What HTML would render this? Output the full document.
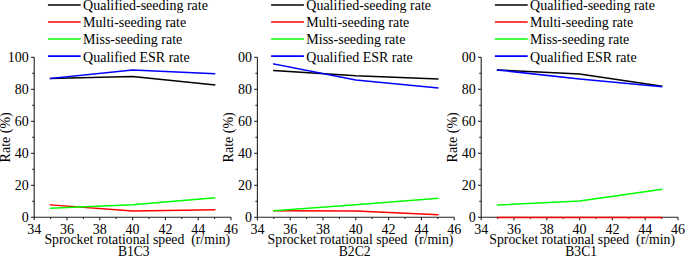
<!DOCTYPE html>
<html><head><meta charset="utf-8"><style>
html,body{margin:0;padding:0;background:#fff;width:685px;height:256px;overflow:hidden}
svg{display:block}
</style></head><body>
<svg width="685" height="256" viewBox="0 0 685 256">
<rect width="685" height="256" fill="#fff"/>
<path d="M34.20 57.30 V217.30 H231.00" fill="none" stroke="#222" stroke-width="1.1"/>
<path d="M31.00 217.30 H34.20" stroke="#222" stroke-width="1.1"/>
<path d="M32.20 201.30 H34.20" stroke="#222" stroke-width="1.1"/>
<path d="M31.00 185.30 H34.20" stroke="#222" stroke-width="1.1"/>
<path d="M32.20 169.30 H34.20" stroke="#222" stroke-width="1.1"/>
<path d="M31.00 153.30 H34.20" stroke="#222" stroke-width="1.1"/>
<path d="M32.20 137.30 H34.20" stroke="#222" stroke-width="1.1"/>
<path d="M31.00 121.30 H34.20" stroke="#222" stroke-width="1.1"/>
<path d="M32.20 105.30 H34.20" stroke="#222" stroke-width="1.1"/>
<path d="M31.00 89.30 H34.20" stroke="#222" stroke-width="1.1"/>
<path d="M32.20 73.30 H34.20" stroke="#222" stroke-width="1.1"/>
<path d="M31.00 57.30 H34.20" stroke="#222" stroke-width="1.1"/>
<path d="M34.20 217.30 V220.30" stroke="#222" stroke-width="1.1"/>
<path d="M50.60 217.30 V219.10" stroke="#222" stroke-width="1.1"/>
<path d="M67.00 217.30 V220.30" stroke="#222" stroke-width="1.1"/>
<path d="M83.40 217.30 V219.10" stroke="#222" stroke-width="1.1"/>
<path d="M99.80 217.30 V220.30" stroke="#222" stroke-width="1.1"/>
<path d="M116.20 217.30 V219.10" stroke="#222" stroke-width="1.1"/>
<path d="M132.60 217.30 V220.30" stroke="#222" stroke-width="1.1"/>
<path d="M149.00 217.30 V219.10" stroke="#222" stroke-width="1.1"/>
<path d="M165.40 217.30 V220.30" stroke="#222" stroke-width="1.1"/>
<path d="M181.80 217.30 V219.10" stroke="#222" stroke-width="1.1"/>
<path d="M198.20 217.30 V220.30" stroke="#222" stroke-width="1.1"/>
<path d="M214.60 217.30 V219.10" stroke="#222" stroke-width="1.1"/>
<path d="M231.00 217.30 V220.30" stroke="#222" stroke-width="1.1"/>
<text x="28.70" y="222.10" text-anchor="end" font-family="Liberation Serif" font-size="14">0</text>
<text x="28.70" y="190.10" text-anchor="end" font-family="Liberation Serif" font-size="14">20</text>
<text x="28.70" y="158.10" text-anchor="end" font-family="Liberation Serif" font-size="14">40</text>
<text x="28.70" y="126.10" text-anchor="end" font-family="Liberation Serif" font-size="14">60</text>
<text x="28.70" y="94.10" text-anchor="end" font-family="Liberation Serif" font-size="14">80</text>
<text x="28.70" y="62.10" text-anchor="end" font-family="Liberation Serif" font-size="14">100</text>
<text x="34.20" y="233.5" text-anchor="middle" font-family="Liberation Serif" font-size="14">34</text>
<text x="67.00" y="233.5" text-anchor="middle" font-family="Liberation Serif" font-size="14">36</text>
<text x="99.80" y="233.5" text-anchor="middle" font-family="Liberation Serif" font-size="14">38</text>
<text x="132.60" y="233.5" text-anchor="middle" font-family="Liberation Serif" font-size="14">40</text>
<text x="165.40" y="233.5" text-anchor="middle" font-family="Liberation Serif" font-size="14">42</text>
<text x="198.20" y="233.5" text-anchor="middle" font-family="Liberation Serif" font-size="14">44</text>
<text x="231.00" y="233.5" text-anchor="middle" font-family="Liberation Serif" font-size="14">46</text>
<text transform="translate(10.00,137.3) rotate(-90)" text-anchor="middle" font-family="Liberation Serif" font-size="14">Rate (%)</text>
<text x="44.40" y="244.3" font-family="Liberation Serif" font-size="13.77" xml:space="preserve">Sprocket rotational speed  (r/min)</text>
<text x="117.90" y="256" font-family="Liberation Serif" font-size="13.6">B1C3</text>
<path d="M47.90 4.95 H80.70" stroke="#000000" stroke-width="1.6"/>
<text x="83.10" y="10.35" font-family="Liberation Serif" font-size="14">Qualified-seeding rate</text>
<path d="M47.90 22.00 H80.70" stroke="#ff0000" stroke-width="1.6"/>
<text x="83.10" y="27.40" font-family="Liberation Serif" font-size="14">Multi-seeding rate</text>
<path d="M47.90 39.05 H80.70" stroke="#00ff00" stroke-width="1.6"/>
<text x="83.10" y="44.45" font-family="Liberation Serif" font-size="14">Miss-seeding rate</text>
<path d="M47.90 56.10 H80.70" stroke="#0000ff" stroke-width="1.6"/>
<text x="83.10" y="61.50" font-family="Liberation Serif" font-size="14">Qualified ESR rate</text>
<polyline points="50.60,78.50 132.60,76.40 214.60,84.90" fill="none" stroke="#000000" stroke-width="1.5" stroke-linejoin="miter" stroke-linecap="square"/>
<polyline points="50.60,204.90 132.60,211.00 214.60,209.70" fill="none" stroke="#ff0000" stroke-width="1.5" stroke-linejoin="miter" stroke-linecap="square"/>
<polyline points="50.60,208.30 132.60,204.70 214.60,197.90" fill="none" stroke="#00ff00" stroke-width="1.5" stroke-linejoin="miter" stroke-linecap="square"/>
<polyline points="50.60,78.50 132.60,70.00 214.60,73.60" fill="none" stroke="#0000ff" stroke-width="1.5" stroke-linejoin="miter" stroke-linecap="square"/>
<path d="M257.40 57.30 V217.30 H454.20" fill="none" stroke="#222" stroke-width="1.1"/>
<path d="M254.20 217.30 H257.40" stroke="#222" stroke-width="1.1"/>
<path d="M255.40 201.30 H257.40" stroke="#222" stroke-width="1.1"/>
<path d="M254.20 185.30 H257.40" stroke="#222" stroke-width="1.1"/>
<path d="M255.40 169.30 H257.40" stroke="#222" stroke-width="1.1"/>
<path d="M254.20 153.30 H257.40" stroke="#222" stroke-width="1.1"/>
<path d="M255.40 137.30 H257.40" stroke="#222" stroke-width="1.1"/>
<path d="M254.20 121.30 H257.40" stroke="#222" stroke-width="1.1"/>
<path d="M255.40 105.30 H257.40" stroke="#222" stroke-width="1.1"/>
<path d="M254.20 89.30 H257.40" stroke="#222" stroke-width="1.1"/>
<path d="M255.40 73.30 H257.40" stroke="#222" stroke-width="1.1"/>
<path d="M254.20 57.30 H257.40" stroke="#222" stroke-width="1.1"/>
<path d="M257.40 217.30 V220.30" stroke="#222" stroke-width="1.1"/>
<path d="M273.80 217.30 V219.10" stroke="#222" stroke-width="1.1"/>
<path d="M290.20 217.30 V220.30" stroke="#222" stroke-width="1.1"/>
<path d="M306.60 217.30 V219.10" stroke="#222" stroke-width="1.1"/>
<path d="M323.00 217.30 V220.30" stroke="#222" stroke-width="1.1"/>
<path d="M339.40 217.30 V219.10" stroke="#222" stroke-width="1.1"/>
<path d="M355.80 217.30 V220.30" stroke="#222" stroke-width="1.1"/>
<path d="M372.20 217.30 V219.10" stroke="#222" stroke-width="1.1"/>
<path d="M388.60 217.30 V220.30" stroke="#222" stroke-width="1.1"/>
<path d="M405.00 217.30 V219.10" stroke="#222" stroke-width="1.1"/>
<path d="M421.40 217.30 V220.30" stroke="#222" stroke-width="1.1"/>
<path d="M437.80 217.30 V219.10" stroke="#222" stroke-width="1.1"/>
<path d="M454.20 217.30 V220.30" stroke="#222" stroke-width="1.1"/>
<text x="251.90" y="222.10" text-anchor="end" font-family="Liberation Serif" font-size="14">0</text>
<text x="251.90" y="190.10" text-anchor="end" font-family="Liberation Serif" font-size="14">20</text>
<text x="251.90" y="158.10" text-anchor="end" font-family="Liberation Serif" font-size="14">40</text>
<text x="251.90" y="126.10" text-anchor="end" font-family="Liberation Serif" font-size="14">60</text>
<text x="251.90" y="94.10" text-anchor="end" font-family="Liberation Serif" font-size="14">80</text>
<text x="251.90" y="62.10" text-anchor="end" font-family="Liberation Serif" font-size="14">00</text>
<text x="257.40" y="233.5" text-anchor="middle" font-family="Liberation Serif" font-size="14">34</text>
<text x="290.20" y="233.5" text-anchor="middle" font-family="Liberation Serif" font-size="14">36</text>
<text x="323.00" y="233.5" text-anchor="middle" font-family="Liberation Serif" font-size="14">38</text>
<text x="355.80" y="233.5" text-anchor="middle" font-family="Liberation Serif" font-size="14">40</text>
<text x="388.60" y="233.5" text-anchor="middle" font-family="Liberation Serif" font-size="14">42</text>
<text x="421.40" y="233.5" text-anchor="middle" font-family="Liberation Serif" font-size="14">44</text>
<text x="454.20" y="233.5" text-anchor="middle" font-family="Liberation Serif" font-size="14">46</text>
<text transform="translate(233.20,137.3) rotate(-90)" text-anchor="middle" font-family="Liberation Serif" font-size="14">Rate (%)</text>
<text x="267.60" y="244.3" font-family="Liberation Serif" font-size="13.77" xml:space="preserve">Sprocket rotational speed  (r/min)</text>
<text x="338.80" y="256" font-family="Liberation Serif" font-size="13.6">B2C2</text>
<path d="M271.10 4.95 H303.90" stroke="#000000" stroke-width="1.6"/>
<text x="306.30" y="10.35" font-family="Liberation Serif" font-size="14">Qualified-seeding rate</text>
<path d="M271.10 22.00 H303.90" stroke="#ff0000" stroke-width="1.6"/>
<text x="306.30" y="27.40" font-family="Liberation Serif" font-size="14">Multi-seeding rate</text>
<path d="M271.10 39.05 H303.90" stroke="#00ff00" stroke-width="1.6"/>
<text x="306.30" y="44.45" font-family="Liberation Serif" font-size="14">Miss-seeding rate</text>
<path d="M271.10 56.10 H303.90" stroke="#0000ff" stroke-width="1.6"/>
<text x="306.30" y="61.50" font-family="Liberation Serif" font-size="14">Qualified ESR rate</text>
<polyline points="273.80,70.50 355.80,75.80 437.80,79.00" fill="none" stroke="#000000" stroke-width="1.5" stroke-linejoin="miter" stroke-linecap="square"/>
<polyline points="273.80,210.70 355.80,210.90 437.80,214.60" fill="none" stroke="#ff0000" stroke-width="1.5" stroke-linejoin="miter" stroke-linecap="square"/>
<polyline points="273.80,210.70 355.80,204.80 437.80,198.20" fill="none" stroke="#00ff00" stroke-width="1.5" stroke-linejoin="miter" stroke-linecap="square"/>
<polyline points="273.80,63.90 355.80,79.90 437.80,87.90" fill="none" stroke="#0000ff" stroke-width="1.5" stroke-linejoin="miter" stroke-linecap="square"/>
<path d="M481.20 57.30 V217.30 H678.00" fill="none" stroke="#222" stroke-width="1.1"/>
<path d="M478.00 217.30 H481.20" stroke="#222" stroke-width="1.1"/>
<path d="M479.20 201.30 H481.20" stroke="#222" stroke-width="1.1"/>
<path d="M478.00 185.30 H481.20" stroke="#222" stroke-width="1.1"/>
<path d="M479.20 169.30 H481.20" stroke="#222" stroke-width="1.1"/>
<path d="M478.00 153.30 H481.20" stroke="#222" stroke-width="1.1"/>
<path d="M479.20 137.30 H481.20" stroke="#222" stroke-width="1.1"/>
<path d="M478.00 121.30 H481.20" stroke="#222" stroke-width="1.1"/>
<path d="M479.20 105.30 H481.20" stroke="#222" stroke-width="1.1"/>
<path d="M478.00 89.30 H481.20" stroke="#222" stroke-width="1.1"/>
<path d="M479.20 73.30 H481.20" stroke="#222" stroke-width="1.1"/>
<path d="M478.00 57.30 H481.20" stroke="#222" stroke-width="1.1"/>
<path d="M481.20 217.30 V220.30" stroke="#222" stroke-width="1.1"/>
<path d="M497.60 217.30 V219.10" stroke="#222" stroke-width="1.1"/>
<path d="M514.00 217.30 V220.30" stroke="#222" stroke-width="1.1"/>
<path d="M530.40 217.30 V219.10" stroke="#222" stroke-width="1.1"/>
<path d="M546.80 217.30 V220.30" stroke="#222" stroke-width="1.1"/>
<path d="M563.20 217.30 V219.10" stroke="#222" stroke-width="1.1"/>
<path d="M579.60 217.30 V220.30" stroke="#222" stroke-width="1.1"/>
<path d="M596.00 217.30 V219.10" stroke="#222" stroke-width="1.1"/>
<path d="M612.40 217.30 V220.30" stroke="#222" stroke-width="1.1"/>
<path d="M628.80 217.30 V219.10" stroke="#222" stroke-width="1.1"/>
<path d="M645.20 217.30 V220.30" stroke="#222" stroke-width="1.1"/>
<path d="M661.60 217.30 V219.10" stroke="#222" stroke-width="1.1"/>
<path d="M678.00 217.30 V220.30" stroke="#222" stroke-width="1.1"/>
<text x="475.70" y="222.10" text-anchor="end" font-family="Liberation Serif" font-size="14">0</text>
<text x="475.70" y="190.10" text-anchor="end" font-family="Liberation Serif" font-size="14">20</text>
<text x="475.70" y="158.10" text-anchor="end" font-family="Liberation Serif" font-size="14">40</text>
<text x="475.70" y="126.10" text-anchor="end" font-family="Liberation Serif" font-size="14">60</text>
<text x="475.70" y="94.10" text-anchor="end" font-family="Liberation Serif" font-size="14">80</text>
<text x="475.70" y="62.10" text-anchor="end" font-family="Liberation Serif" font-size="14">00</text>
<text x="481.20" y="233.5" text-anchor="middle" font-family="Liberation Serif" font-size="14">34</text>
<text x="514.00" y="233.5" text-anchor="middle" font-family="Liberation Serif" font-size="14">36</text>
<text x="546.80" y="233.5" text-anchor="middle" font-family="Liberation Serif" font-size="14">38</text>
<text x="579.60" y="233.5" text-anchor="middle" font-family="Liberation Serif" font-size="14">40</text>
<text x="612.40" y="233.5" text-anchor="middle" font-family="Liberation Serif" font-size="14">42</text>
<text x="645.20" y="233.5" text-anchor="middle" font-family="Liberation Serif" font-size="14">44</text>
<text x="678.00" y="233.5" text-anchor="middle" font-family="Liberation Serif" font-size="14">46</text>
<text transform="translate(457.00,137.3) rotate(-90)" text-anchor="middle" font-family="Liberation Serif" font-size="14">Rate (%)</text>
<text x="489.30" y="244.3" font-family="Liberation Serif" font-size="13.77" xml:space="preserve">Sprocket rotational speed  (r/min)</text>
<text x="565.30" y="256" font-family="Liberation Serif" font-size="13.6">B3C1</text>
<path d="M494.90 4.95 H527.70" stroke="#000000" stroke-width="1.6"/>
<text x="530.10" y="10.35" font-family="Liberation Serif" font-size="14">Qualified-seeding rate</text>
<path d="M494.90 22.00 H527.70" stroke="#ff0000" stroke-width="1.6"/>
<text x="530.10" y="27.40" font-family="Liberation Serif" font-size="14">Multi-seeding rate</text>
<path d="M494.90 39.05 H527.70" stroke="#00ff00" stroke-width="1.6"/>
<text x="530.10" y="44.45" font-family="Liberation Serif" font-size="14">Miss-seeding rate</text>
<path d="M494.90 56.10 H527.70" stroke="#0000ff" stroke-width="1.6"/>
<text x="530.10" y="61.50" font-family="Liberation Serif" font-size="14">Qualified ESR rate</text>
<polyline points="497.60,70.00 579.60,74.10 661.60,86.10" fill="none" stroke="#000000" stroke-width="1.5" stroke-linejoin="miter" stroke-linecap="square"/>
<polyline points="497.60,217.50 579.60,217.50 661.60,217.50" fill="none" stroke="#ff0000" stroke-width="1.5" stroke-linejoin="miter" stroke-linecap="square"/>
<polyline points="497.60,205.00 579.60,201.10 661.60,189.40" fill="none" stroke="#00ff00" stroke-width="1.5" stroke-linejoin="miter" stroke-linecap="square"/>
<polyline points="497.60,70.00 579.60,78.90 661.60,86.60" fill="none" stroke="#0000ff" stroke-width="1.5" stroke-linejoin="miter" stroke-linecap="square"/>
</svg>
</body></html>
